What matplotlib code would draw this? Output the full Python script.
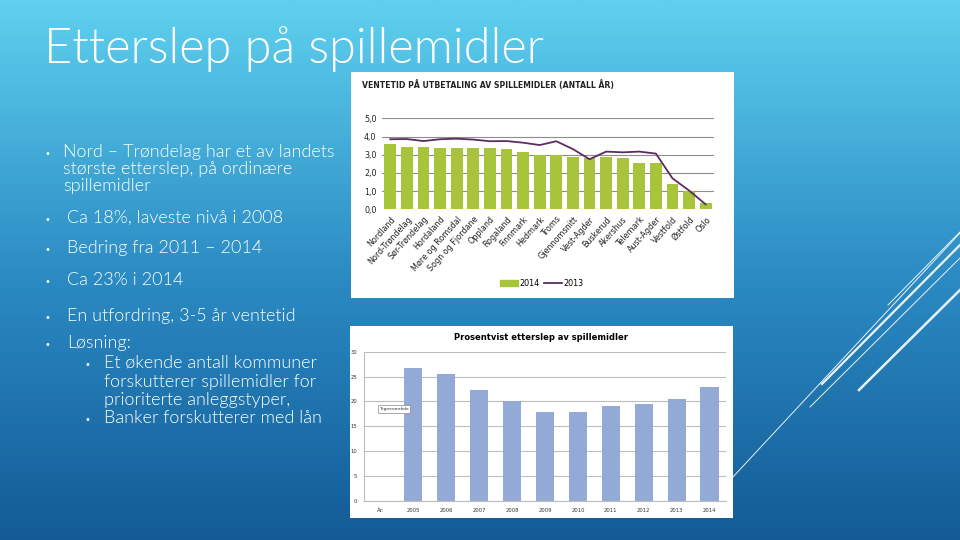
import numpy as np
import matplotlib
matplotlib.use('Agg')
import matplotlib.pyplot as plt
from matplotlib.colors import LinearSegmentedColormap
from matplotlib.lines import Line2D
from matplotlib.patches import Rectangle, Patch

W, H = 960, 540

# --- data, chart 1: waiting time (years) per county
regions = ['Nordland', 'Nord-Trøndelag', 'Sør-Trøndelag', 'Hordaland', 'Møre og Romsdal',
           'Sogn og Fjordane', 'Oppland', 'Rogaland', 'Finnmark', 'Hedmark', 'Troms',
           'Gjennomsnitt', 'Vest-Agder', 'Buskerud', 'Akershus', 'Telemark', 'Aust-Agder',
           'Vestfold', 'Østfold', 'Oslo']
wait_2014 = [3.6, 3.4, 3.4, 3.35, 3.35, 3.35, 3.35, 3.3, 3.15, 3.0, 3.0,
             2.87, 2.8, 2.87, 2.82, 2.56, 2.56, 1.4, 1.03, 0.35]
wait_2013 = [3.85, 3.86, 3.75, 3.85, 3.88, 3.83, 3.74, 3.75, 3.66, 3.53, 3.74,
             3.31, 2.75, 3.17, 3.13, 3.17, 3.06, 1.70, 1.03, 0.27]

# --- data, chart 2: backlog in percent
years = ['2005', '2006', '2007', '2008', '2009', '2010', '2011', '2012', '2013', '2014']
backlog_pct = [26.8, 25.6, 22.2, 20.1, 17.85, 17.8, 19.0, 19.5, 20.5, 22.95]

# --- slide text
title = 'Etterslep på spillemidler'
bullets = [
    # (indent level, text, baseline y in px, draw bullet)
    (0, 'Nord – Trøndelag har et av landets', 157, True),
    (0, 'største etterslep, på ordinære', 174, False),
    (0, 'spillemidler', 191, False),
    (0, 'Ca 18%, laveste nivå i 2008', 223, True),
    (0, 'Bedring fra 2011 – 2014', 253, True),
    (0, 'Ca 23% i 2014', 285, True),
    (0, 'En utfordring, 3-5 år ventetid', 321, True),
    (0, 'Løsning:', 348, True),
    (1, 'Et økende antall kommuner', 368, True),
    (1, 'forskutterer spillemidler for', 387, False),
    (1, 'prioriterte anleggstyper,', 405, False),
    (1, 'Banker forskutterer med lån', 423, True),
]


def fx(x):
    return x / W


def fy(y):
    return 1 - y / H


fig = plt.figure(figsize=(9.6, 5.4), dpi=100)

# background gradient
bg = fig.add_axes([0, 0, 1, 1], zorder=0)
cmap = LinearSegmentedColormap.from_list('slide', ['#135b97', '#2c8cc4', '#5fd1ef'])
grad = np.linspace(0, 1, 256).reshape(-1, 1)
bg.imshow(grad, aspect='auto', cmap=cmap, extent=[0, 1, 0, 1], origin='lower')
bg.axis('off')

# decorative lines on the right
deco = [((732, 478), (960, 233), 0.7),
        ((888, 305), (960, 232), 0.7),
        ((822, 384), (960, 245), 1.6),
        ((810, 407), (960, 258), 0.7),
        ((859, 390), (960, 290), 1.8)]
for (x0, y0), (x1, y1), lw in deco:
    fig.add_artist(Line2D([fx(x0), fx(x1)], [fy(y0), fy(y1)], transform=fig.transFigure,
                          color='white', lw=lw, alpha=0.9, zorder=1))

# white chart panels
for x0, y0, x1, y1 in [(351, 72, 734, 298), (350, 326, 733, 518)]:
    fig.add_artist(Rectangle((fx(x0), fy(y1)), (x1 - x0) / W, (y1 - y0) / H,
                             transform=fig.transFigure, facecolor='white',
                             edgecolor='none', zorder=1))

# title and bullets
fig.text(fx(44), fy(63), title, fontsize=35, color='white', va='baseline',
         family='Lato', weight=300, zorder=3)
for level, text, y, dot in bullets:
    tx = 63 if level == 0 else 104
    if level == 0 and dot and y > 200:
        tx = 67
    if dot:
        bx = 45 if level == 0 else 85
        fig.text(fx(bx), fy(y), '•', fontsize=7, color='white', va='baseline', zorder=3)
    fig.text(fx(tx), fy(y), text, fontsize=13, color='white', va='baseline',
             family='Lato', weight=300, zorder=3)

# --- chart 1
ax1 = fig.add_axes([fx(382), fy(209.3), (714 - 382) / W, (209.3 - 118.3) / H])
ax1.set_zorder(2)
ax1.patch.set_alpha(0)
x = np.arange(len(regions))
ax1.bar(x, wait_2014, width=0.72, color='#a8c43a', zorder=2, label='2014')
ax1.plot(x, wait_2013, color='#5b2c5f', lw=1.3, zorder=3, label='2013')
ax1.set_xlim(-0.5, len(regions) - 0.5)
ax1.set_ylim(0, 5)
yt = np.arange(0, 5.1, 1)
ax1.set_yticks(yt)
ax1.set_yticklabels([f'{v:.1f}'.replace('.', ',') for v in yt], fontsize=5.8, color='#222222')
ax1.set_xticks(x)
ax1.set_xticklabels(regions, rotation=48, ha='right', rotation_mode='anchor',
                    fontsize=5.8, color='#222222')
ax1.tick_params(length=0, pad=4)
ax1.yaxis.grid(True, color='#8c8c8c', lw=0.8)
ax1.set_axisbelow(True)
for s in ax1.spines.values():
    s.set_visible(False)
fig.text(fx(362), fy(85), 'VENTETID PÅ UTBETALING AV SPILLEMIDLER (ANTALL ÅR)',
         fontsize=5.6, weight='bold', color='#222222', va='center', zorder=3)
fig.legend(handles=[Patch(color='#a8c43a', label='2014'),
                    Line2D([], [], color='#5b2c5f', lw=1.3, label='2013')],
           loc='center', bbox_to_anchor=(fx(542), fy(283)), ncol=2, frameon=False,
           fontsize=5.8, handlelength=2.2, handletextpad=0.2, columnspacing=0.6)

# --- chart 2
ax2 = fig.add_axes([fx(364), fy(500.7), (726 - 364) / W, (500.7 - 351.7) / H])
ax2.set_zorder(2)
ax2.patch.set_alpha(0)
labels2 = ['År:'] + years
pos = np.arange(1, len(years) + 1)
ax2.bar(pos, backlog_pct, width=0.55, color='#93aad6', zorder=2)
ax2.set_xlim(-0.5, len(labels2) - 0.5)
ax2.set_ylim(0, 30)
ax2.set_yticks(np.arange(0, 31, 5))
ax2.set_xticks(np.arange(len(labels2)))
ax2.set_xticklabels(labels2)
ax2.tick_params(length=0, labelsize=3.8, labelcolor='#333333', pad=5)
ax2.yaxis.grid(True, color='#bdbdbd', lw=0.8)
ax2.set_axisbelow(True)
for side in ['top', 'right']:
    ax2.spines[side].set_visible(False)
for side in ['left', 'bottom']:
    ax2.spines[side].set_color('#bdbdbd')
fig.text(fx(541), fy(338), 'Prosentvist etterslep av spillemidler', ha='center',
         va='center', fontsize=6, weight='bold', color='black', zorder=3)
fig.text(fx(394), fy(409), 'Tegneområde', ha='center', va='center', fontsize=3.2,
         color='#333333', zorder=4,
         bbox=dict(boxstyle='square,pad=0.3', facecolor='white', edgecolor='#888888', lw=0.5))

fig.savefig('out.png', dpi=100)
